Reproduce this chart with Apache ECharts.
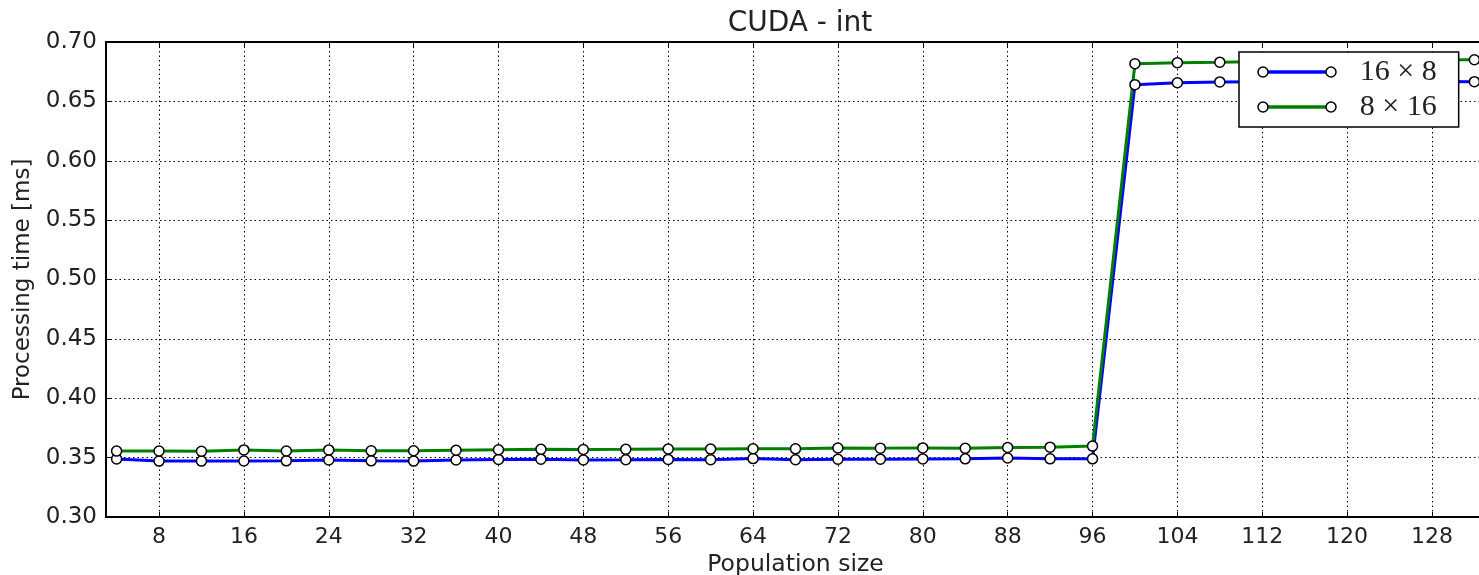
<!DOCTYPE html>
<html><head><meta charset="utf-8">
<script src="https://cdn.jsdelivr.net/npm/echarts@6/dist/echarts.min.js"></script>
<style>html,body{margin:0;padding:0;background:#fff}#c{width:1479px;height:575px}</style>
</head><body><div id="c"></div>
<script>
const xValues = [4,8,12,16,20,24,28,32,36,40,44,48,52,56,60,64,68,72,76,80,84,88,92,96,100,104,108,112,116,120,124,128,132];
const blue16x8 = [0.3488,0.3471,0.3471,0.3472,0.3473,0.3480,0.3473,0.3471,0.3480,0.3485,0.3487,0.3480,0.3482,0.3485,0.3483,0.3492,0.3482,0.3486,0.3487,0.3489,0.3490,0.3497,0.3490,0.3490,
  0.6641,0.6657,0.6664,0.6665,0.6666,0.6667,0.6667,0.6667,0.6666];
const green8x16 = [0.3555,0.3556,0.3553,0.3565,0.3556,0.3565,0.3557,0.3558,0.3562,0.3566,0.3570,0.3568,0.3570,0.3573,0.3572,0.3575,0.3574,0.3581,0.3580,0.3582,0.3578,0.3585,0.3588,0.3597,
  0.6817,0.6826,0.6830,0.6835,0.6840,0.6840,0.6845,0.6850,0.6851];
const xTicks = [8,16,24,32,40,48,56,64,72,80,88,96,104,112,120,128];
const seriesNames = ['16 × 8', '8 × 16'];

const chart = echarts.init(document.getElementById('c'), null, {renderer:'canvas'});
const font = 'DejaVu Sans';
const txt = '#222';
const grid = {left:106, top:42, width:1379, height:475, show:true, borderColor:'#000', borderWidth:2,
  backgroundColor:'transparent', containLabel:false, outerBoundsMode:'none'};
const dotted = {color:'#000', type:[1.5,3], width:1};
function mkSeries(name, vals, color){
  return {
    name, type:'line', data: xValues.map((x,i)=>[x, vals[i]]),
    symbol:'circle', symbolSize:10, showAllSymbol:true,
    lineStyle:{color, width:3},
    itemStyle:{color:'#fff', borderColor:'#000', borderWidth:1.5},
    emphasis:{disabled:true}, animation:false, clip:true
  };
}
chart.setOption({
  animation:false,
  title:{text:'CUDA - int', left:795, textAlign:'center', top:5,
    textStyle:{fontFamily:font, fontSize:28, fontWeight:'normal', color:txt}},
  grid,
  xAxis:[{
    type:'value', min:3, max:133, position:'bottom',
    axisLine:{show:true, onZero:false, lineStyle:{color:'#000', width:2}},
    axisTick:{show:true, inside:true, length:5, customValues:xTicks, lineStyle:{color:'#000', width:1}},
    axisLabel:{customValues:xTicks, fontFamily:font, fontSize:22, color:txt, margin:9},
    splitLine:{show:true, lineStyle:dotted},
    name:'Population size', nameLocation:'middle', nameGap:35,
    nameTextStyle:{fontFamily:font, fontSize:23.5, color:txt}
  },{
    type:'value', min:3, max:133, position:'top',
    axisLine:{show:true, onZero:false, lineStyle:{color:'#000', width:2}},
    axisTick:{show:true, inside:true, length:5, customValues:xTicks, lineStyle:{color:'#000', width:1}},
    axisLabel:{show:false}, splitLine:{show:false}
  }],
  yAxis:{
    type:'value', min:0.3, max:0.7, interval:0.05,
    axisLine:{show:true, lineStyle:{color:'#000', width:2}},
    axisTick:{show:true, inside:true, length:5, lineStyle:{color:'#000', width:1}},
    axisLabel:{fontFamily:font, fontSize:23, color:txt, margin:9, formatter:v=>v.toFixed(2)},
    splitLine:{show:true, lineStyle:dotted},
    name:'Processing time [ms]', nameLocation:'middle', nameGap:71, nameRotate:90,
    nameTextStyle:{fontFamily:font, fontSize:23, color:txt}
  },
  legend:{
    orient:'vertical', left:1239, top:52, data:seriesNames,
    itemWidth:68, itemHeight:14, itemGap:5, padding:[5,22,5,24],
    borderColor:'#000', borderWidth:1.5, backgroundColor:'#fff',
    textStyle:{fontFamily:'Liberation Serif', fontSize:30, color:txt, lineHeight:30, padding:[0,0,0,22]},
    itemStyle:{opacity:0}, lineStyle:{width:3.5}, selectedMode:false
  },
  graphic:[
    {type:'circle', shape:{cx:1263, cy:72, r:5}, style:{fill:'#fff', stroke:'#000', lineWidth:1.5}, z:100},
    {type:'circle', shape:{cx:1331, cy:72, r:5}, style:{fill:'#fff', stroke:'#000', lineWidth:1.5}, z:100},
    {type:'circle', shape:{cx:1263, cy:107, r:5}, style:{fill:'#fff', stroke:'#000', lineWidth:1.5}, z:100},
    {type:'circle', shape:{cx:1331, cy:107, r:5}, style:{fill:'#fff', stroke:'#000', lineWidth:1.5}, z:100}
  ],
  series:[mkSeries(seriesNames[0], blue16x8, '#0000ff'), mkSeries(seriesNames[1], green8x16, '#008000')]
});
</script></body></html>
